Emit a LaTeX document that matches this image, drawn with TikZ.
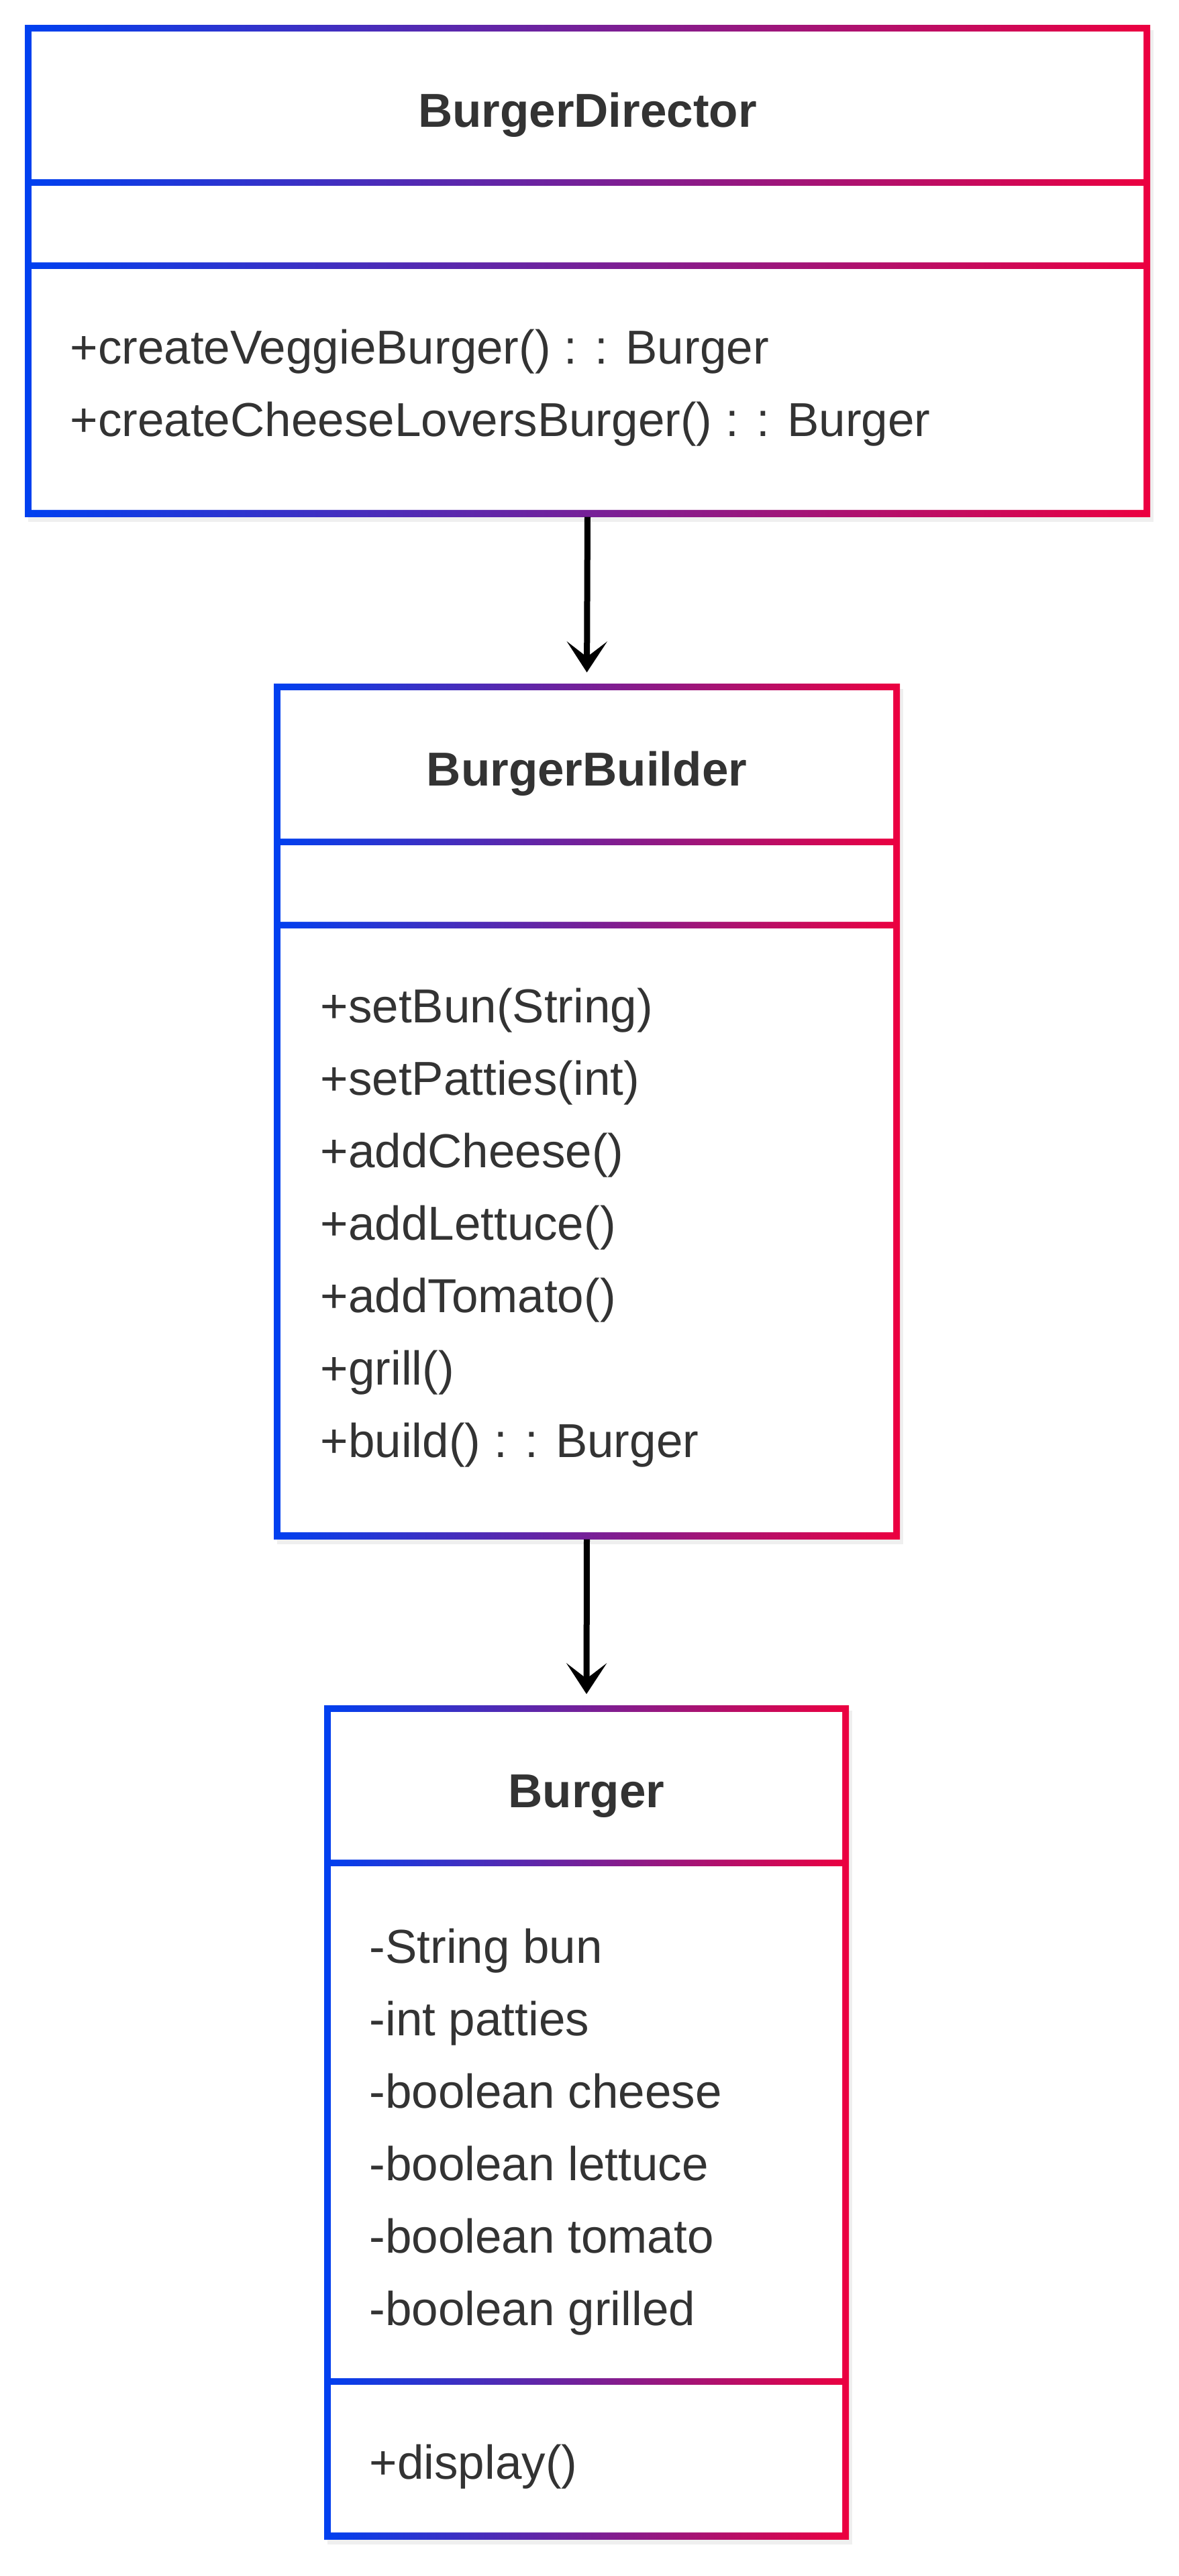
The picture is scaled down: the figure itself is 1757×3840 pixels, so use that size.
\documentclass[tikz,border=0pt]{standalone}
\usepackage{fontspec}
\setmainfont{Liberation Sans}
\usetikzlibrary{arrows.meta,fit,shadows}
\definecolor{umlblue}{RGB}{0,64,240}
\definecolor{umlred}{RGB}{236,0,64}
\definecolor{umltext}{RGB}{51,51,51}
\begin{document}
\begin{tikzpicture}[x=0.1mm,y=-0.1mm,
	classbox/.style={left color=umlblue,right color=umlred,inner sep=0pt,
		drop shadow={opacity=0.12,shadow xshift=0.5mm,shadow yshift=-0.8mm}},
	title/.style={anchor=base,inner sep=0pt,text=umltext,font=\fontsize{20.2pt}{24pt}\selectfont\bfseries},
	member/.style={anchor=base west,inner sep=0pt,text=umltext,font=\fontsize{20.2pt}{24pt}\selectfont},
	link/.style={line width=0.9mm,-{Stealth[length=4.6mm,width=6mm,inset=2.3mm]},shorten >=1.6mm}]
	\useasboundingbox (0,0) rectangle (1757,3840);
	\fill[white] (0,0) rectangle (1757,3840);

	\node[classbox,fit={(37,37) (1714,770)}] (director) {};
	\fill[white] (47,47) rectangle (1704,267) (47,277) rectangle (1704,391) (47,401) rectangle (1704,760);
	\node[title] (directortitle) at (875.5,189) {BurgerDirector};
	\node[member] (dm0) at (104,542) {+createVeggieBurger() : : Burger};
	\node[member] (dm1) at (104,650) {+createCheeseLoversBurger() : : Burger};

	\node[classbox,fit={(408,1019) (1341,2294)}] (builder) {};
	\fill[white] (418,1029) rectangle (1331,1250) (418,1260) rectangle (1331,1374) (418,1384) rectangle (1331,2284);
	\node[title] (buildertitle) at (874.5,1171) {BurgerBuilder};
	\foreach \txt [count=\i from 0] in {+setBun(String),+setPatties(int),+addCheese(),+addLettuce(),+addTomato(),+grill(),+build() : : Burger}
		\node[member] (bm\i) at (477,1524+108*\i) {\txt};

	\node[classbox,fit={(483,2542) (1265,3785)}] (burger) {};
	\fill[white] (493,2552) rectangle (1255,2772) (493,2782) rectangle (1255,3545) (493,3555) rectangle (1255,3775);
	\node[title] (burgertitle) at (874,2694) {Burger};
	\foreach \txt [count=\i from 0] in {-String bun,-int patties,-boolean cheese,-boolean lettuce,-boolean tomato,-boolean grilled}
		\node[member] (ba\i) at (550,2926+108*\i) {\txt};
	\node[member] (bdisplay) at (550,3695) {+display()};

	\draw[link] (director.south) -- (builder.north);
	\draw[link] (builder.south) -- (burger.north);
\end{tikzpicture}
\end{document}
